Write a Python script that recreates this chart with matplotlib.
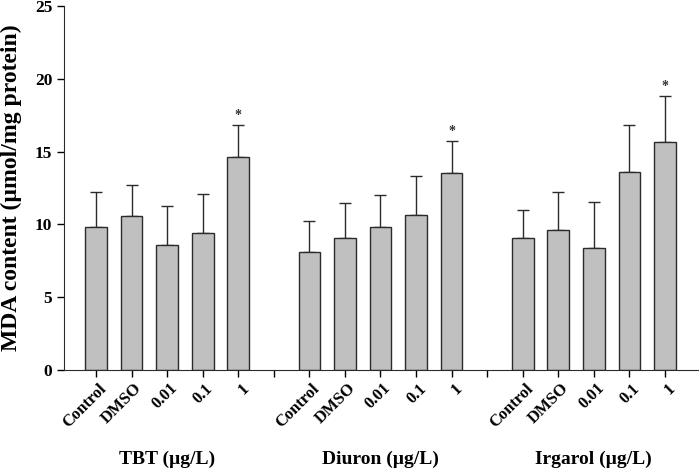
import numpy as np
import matplotlib.pyplot as plt
import matplotlib.transforms as mtransforms

# MDA content per treatment
groups = ['TBT (µg/L)', 'Diuron (µg/L)', 'Irgarol (µg/L)']
treatments = ['Control', 'DMSO', '0.01', '0.1', '1']
means = [
    [9.85, 10.6, 8.6, 9.4, 14.65],
    [8.1, 9.1, 9.85, 10.65, 13.5],
    [9.1, 9.6, 8.4, 13.6, 15.65],
]
upper_err = [
    [2.4, 2.1, 2.65, 2.7, 2.15],
    [2.15, 2.4, 2.15, 2.65, 2.25],
    [1.9, 2.6, 3.15, 3.25, 3.15],
]
significant = [
    [False, False, False, False, True],
    [False, False, False, False, True],
    [False, False, False, False, True],
]

plt.rcParams['font.family'] = ['Liberation Serif', 'DejaVu Serif']
plt.rcParams['font.weight'] = 'bold'

fig = plt.figure(figsize=(6.99, 4.71), dpi=100)
ax = fig.add_axes([0.0916, 0.2144, 0.907, 0.7729])

# rotated tick labels end just right of and below their tick
label_tf = ax.get_xaxis_transform() + mtransforms.ScaledTranslation(
    8 / 100, -16 / 100, fig.dpi_scale_trans)

n = len(treatments)
positions = []
for g in range(len(groups)):
    start = g * (n + 1)
    xs = np.arange(start, start + n)
    ax.bar(xs, means[g], width=0.61, color='#c0c0c0', edgecolor='#2b2b2b',
           linewidth=1.0, zorder=2)
    ax.errorbar(xs, means[g], yerr=[np.zeros(n), upper_err[g]], fmt='none',
                ecolor='#2b2b2b', elinewidth=1.0, capsize=4.5, capthick=1.0,
                zorder=1)
    for i, x in enumerate(xs):
        if significant[g][i]:
            ax.text(x, means[g][i] + upper_err[g][i] + 0.2, '*', ha='center',
                    va='bottom', fontsize=10, color='#333333')
        ax.text(x, 0, treatments[i], transform=label_tf, rotation=45,
                ha='right', va='center', rotation_mode='anchor',
                fontsize=12, fontweight='bold')
    positions += list(xs)
    if g < len(groups) - 1:
        positions.append(start + n)
    # group label under the middle bar
    ax.text(start + 2, -0.245, groups[g], transform=ax.get_xaxis_transform(),
            ha='center', va='center', fontsize=14, fontweight='bold')

ax.set_xticks(positions)
ax.set_xticklabels([])

ax.set_xlim(-0.9, 16.93)
ax.set_ylim(0, 25)
ax.set_yticks(np.arange(0, 26, 5))
ax.tick_params(axis='y', labelsize=12.5, length=5, width=1)
ax.tick_params(axis='x', length=5, width=1)
for lab in ax.get_yticklabels():
    lab.set_fontweight('bold')

ax.set_ylabel('MDA content (µmol/mg protein)', fontsize=17,
              fontweight='bold', labelpad=9)

ax.spines['top'].set_visible(False)
ax.spines['right'].set_visible(False)
ax.spines['left'].set_color('#2b2b2b')
ax.spines['bottom'].set_color('#2b2b2b')

fig.savefig('out.png', dpi=100)
